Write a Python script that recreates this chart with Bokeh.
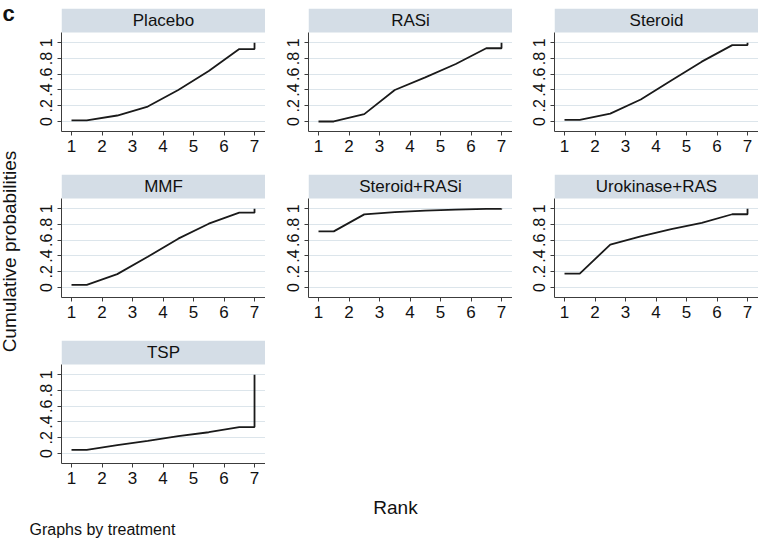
import math
from bokeh.plotting import figure
from bokeh.layouts import row, column
from bokeh.models import Range1d, FixedTicker, BoxAnnotation, Label
from bokeh.embed import file_html
from bokeh.resources import INLINE

# ---------------- data ----------------
ranks = [1, 2, 3, 4, 5, 6, 7]
treatments = ["Placebo", "RASi", "Steroid", "MMF", "Steroid+RASi", "Urokinase+RAS", "TSP"]
placebo = [0.013, 0.076, 0.19, 0.40, 0.64, 0.92, 1.0]
rasi = [0.0, 0.094, 0.40, 0.56, 0.73, 0.93, 1.0]
steroid = [0.02, 0.10, 0.28, 0.52, 0.76, 0.97, 1.0]
mmf = [0.034, 0.17, 0.39, 0.62, 0.81, 0.95, 1.0]
steroid_rasi = [0.713, 0.928, 0.958, 0.975, 0.99, 0.998, 1.0]
urokinase_ras = [0.177, 0.544, 0.65, 0.74, 0.82, 0.93, 1.0]
tsp = [0.046, 0.105, 0.16, 0.22, 0.27, 0.336, 1.0]
series = [placebo, rasi, steroid, mmf, steroid_rasi, urokinase_ras, tsp]
y_ticks = [0, 0.2, 0.4, 0.6, 0.8, 1.0]
y_tick_labels = ["0", ".2", ".4", ".6", ".8", "1"]

# ---------------- style / layout ----------------
FONT = "Liberation Sans"
STRIP = "#d4dde6"
GRID = "#dce5eb"
AXIS = "#3c3c3c"
LINE = "#1a1a1a"
FW = 204            # frame width
PLOT_PX = 99        # plot region height
STRIP_PX = 24       # strip height
X0, X1 = 0.672, 7.36
Y_LO, Y_HI = -0.127, 1.13
Y_TOP = Y_HI + STRIP_PX * (Y_HI - Y_LO) / PLOT_PX
LEFT_W = 28
LEFTS = [33, 43, 42]
RIGHTS = [0, 0, 0]
TOPS = [8, 0, 0]
BOTTOMS = [43, 43, 30]


def step_path(cum):
    xs = [ranks[0]] + [r + 0.5 for r in ranks[:-1]] + [ranks[-1], ranks[-1]]
    ys = [cum[0]] + list(cum[:-1]) + [cum[-2], cum[-1]]
    return xs, ys


def panel(name, cum, col, rw):
    p = figure(frame_width=FW, frame_height=PLOT_PX + STRIP_PX,
               x_range=Range1d(X0, X1), y_range=Range1d(Y_LO, Y_TOP),
               output_backend="svg", toolbar_location=None,
               min_border_left=LEFTS[col], min_border_right=RIGHTS[col],
               min_border_top=TOPS[rw], min_border_bottom=BOTTOMS[rw])
    p.outline_line_color = None
    p.background_fill_color = "white"
    p.border_fill_color = "white"
    p.xgrid.visible = False
    p.ygrid.grid_line_color = GRID
    p.ygrid.grid_line_width = 1
    p.ygrid.ticker = FixedTicker(ticks=y_ticks)

    p.xaxis.ticker = FixedTicker(ticks=ranks)
    p.yaxis.ticker = FixedTicker(ticks=y_ticks)
    p.yaxis.major_label_overrides = {t: s for t, s in zip(y_ticks, y_tick_labels)}
    p.yaxis.major_label_orientation = "vertical"
    p.yaxis.bounds = (Y_LO, Y_HI)
    for ax in (p.xaxis[0], p.yaxis[0]):
        ax.axis_line_color = AXIS
        ax.axis_line_width = 1
        ax.major_tick_line_color = AXIS
        ax.major_tick_out = 4
        ax.major_tick_in = 0
        ax.minor_tick_line_color = None
        ax.major_label_text_font = FONT
        ax.major_label_text_color = "#111111"
    p.xaxis.major_label_text_font_size = "17px"
    p.xaxis.major_label_standoff = 4
    p.yaxis.major_label_text_font_size = "16px"
    p.yaxis.major_label_standoff = 5

    p.add_layout(BoxAnnotation(bottom=Y_HI, fill_color=STRIP, fill_alpha=1.0,
                               line_color=None, level="underlay"))
    p.add_layout(Label(x=(X0 + X1) / 2, y=(Y_HI + Y_TOP) / 2, text=name,
                       text_align="center", text_baseline="middle",
                       text_font=FONT, text_font_size="17px", text_color="#111111"))
    xs, ys = step_path(cum)
    p.line(xs, ys, line_color=LINE, line_width=1.8)
    return p


figs = [panel(treatments[i], series[i], i % 3, i // 3) for i in range(len(treatments))]

grid = column(
    row(figs[0], figs[1], figs[2]),
    row(figs[3], figs[4], figs[5]),
    row(figs[6]),
)

TOTAL_H = 538
left = figure(width=LEFT_W, height=TOTAL_H, x_range=Range1d(0, LEFT_W), y_range=Range1d(0, TOTAL_H),
              x_axis_type=None, y_axis_type=None, min_border=0,
              output_backend="svg", toolbar_location=None)
left.outline_line_color = None
left.grid.visible = False
left.add_layout(Label(x=9, y=TOTAL_H - 251, text="Cumulative probabilities", angle=math.pi / 2,
                      text_align="center", text_baseline="middle",
                      text_font=FONT, text_font_size="19px", text_color="#111111"))
left.add_layout(Label(x=2, y=TOTAL_H - 13, text="c", text_align="left", text_baseline="alphabetic",
                      text_font=FONT, text_font_size="22px", text_font_style="bold",
                      text_color="#111111"))

BW, BH = 758 - LEFT_W, 45
bottom = figure(width=BW, height=BH, x_range=Range1d(0, BW), y_range=Range1d(0, BH),
                x_axis_type=None, y_axis_type=None, min_border=0,
                output_backend="svg", toolbar_location=None)
bottom.outline_line_color = None
bottom.grid.visible = False
bottom.add_layout(Label(x=367, y=BH - 14, text="Rank", text_align="center", text_baseline="middle",
                        text_font=FONT, text_font_size="19px", text_color="#111111"))
bottom.add_layout(Label(x=1, y=BH - 36, text="Graphs by treatment", text_align="left",
                        text_baseline="middle", text_font=FONT, text_font_size="16px",
                        text_color="#111111"))

page = row(left, column(grid, bottom))

open("out.html", "w").write(file_html(page, INLINE))
